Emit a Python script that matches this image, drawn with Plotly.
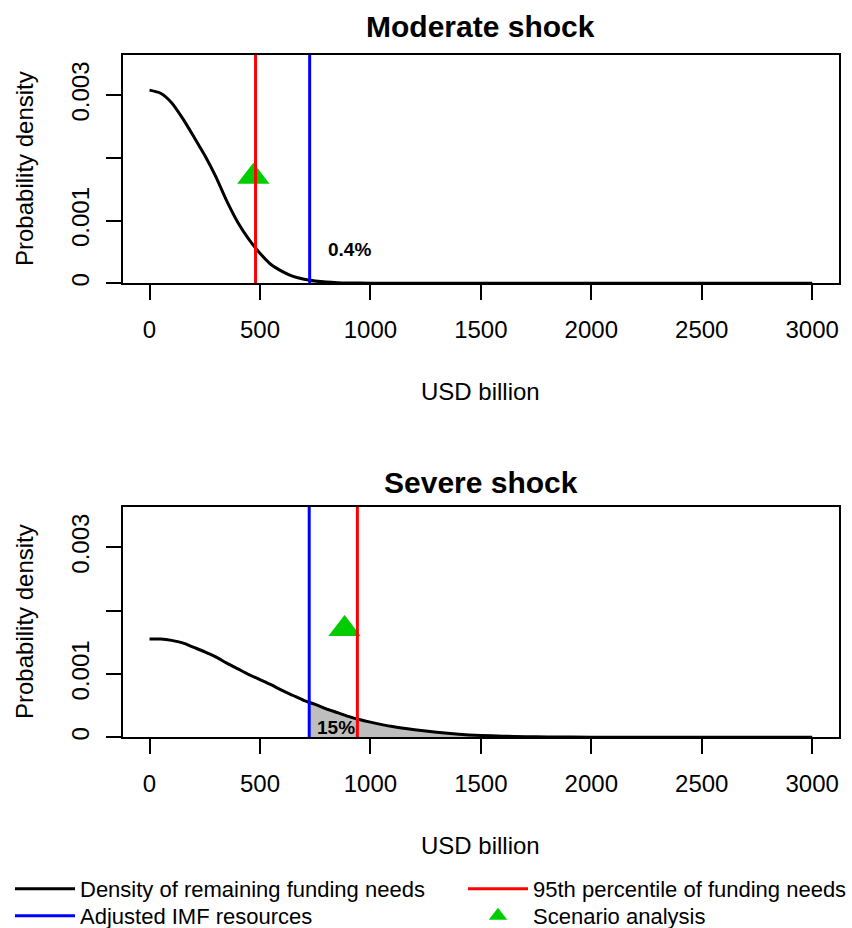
import numpy as np
import plotly.graph_objects as go

# ---------------- data ----------------
x_moderate = [0, 50, 100, 150, 200, 250, 300, 350, 400, 450, 500, 550, 600, 650,
              700, 750, 800, 850, 900, 1000, 1200, 1500, 2000, 2500, 3000]
dens_moderate = [0.00308, 0.00303, 0.00288, 0.00263, 0.00234, 0.00204, 0.00170,
                 0.00131, 0.00097, 0.00070, 0.00048, 0.00030, 0.00019, 0.00011,
                 0.000065, 0.000038, 0.00002, 0.00001, 0.000005, 0.000002, 0.0,
                 0.0, 0.0, 0.0, 0.0]

x_severe = [0, 50, 100, 150, 200, 250, 300, 350, 400, 450, 500, 550, 600, 650,
            700, 750, 800, 850, 900, 950, 1000, 1100, 1200, 1300, 1400, 1500,
            1600, 1700, 1800, 2000, 2500, 3000]
dens_severe = [0.00155, 0.00155, 0.00153, 0.00149, 0.00142, 0.00135, 0.00127,
               0.00117, 0.00108, 0.00099, 0.00091, 0.00083, 0.00074, 0.00066,
               0.00058, 0.00052, 0.00045, 0.00039, 0.00033, 0.00028, 0.00024,
               0.00017, 0.00012, 0.00008, 0.00005, 0.00003, 0.000018, 0.00001,
               0.000005, 0.000002, 0.0, 0.0]

imf_resources = [725, 723]          # Adjusted IMF resources (moderate, severe)
p95_needs = [480, 941]              # 95th percentile of funding needs
scenario_x = [470, 883]             # Scenario analysis point
scenario_y = [0.00170, 0.00171]
tail_labels = ["0.4%", "15%"]
tail_label_x = [905, 843]
tail_label_y = [0.00054, 0.00016]
panel_titles = ["Moderate shock", "Severe shock"]

x_ticks = [0, 500, 1000, 1500, 2000, 2500, 3000]
y_ticks = [0, 0.001, 0.002, 0.003]
y_tick_text = ["0", "0.001", "", "0.003"]
x_range = [-120, 3120]
y_range = [0, 0.00364]

# ---------------- style ----------------
FONT = "Liberation Sans, Arial, Helvetica, sans-serif"
RED, BLUE, GREEN, GREY = "#FF0000", "#0000FF", "#00CD00", "#BEBEBE"
W, H = 852, 928

x_dom = [123 / W, 838.7 / W]
y_doms = [[1 - 283.3 / H, 1 - 55 / H], [1 - 737.3 / H, 1 - 506.7 / H]]

fig = go.Figure()

series = [(x_moderate, dens_moderate), (x_severe, dens_severe)]
for i, (xs, ys) in enumerate(series):
    xa = "x" if i == 0 else "x2"
    ya = "y" if i == 0 else "y2"
    show = i == 0
    xs_a = np.array(xs, dtype=float)
    ys_a = np.array(ys, dtype=float)
    b = imf_resources[i]
    # shaded tail beyond IMF resources
    mask = xs_a > b
    tx = np.concatenate([[b], xs_a[mask]])
    ty = np.concatenate([[np.interp(b, xs_a, ys_a)], ys_a[mask]])
    fig.add_trace(go.Scatter(x=tx, y=ty, mode="lines", fill="tozeroy",
                             fillcolor=GREY, line=dict(color="black", width=1),
                             showlegend=False, hoverinfo="skip", xaxis=xa, yaxis=ya))
    # density curve
    fig.add_trace(go.Scatter(x=xs, y=ys, mode="lines",
                             line=dict(color="black", width=3, shape="spline", smoothing=0.7),
                             name="Density of remaining funding needs",
                             legend="legend",
                             showlegend=show, xaxis=xa, yaxis=ya))
    # scenario triangle
    fig.add_trace(go.Scatter(x=[scenario_x[i]], y=[scenario_y[i]], mode="markers",
                             marker=dict(symbol="triangle-up", size=28, color=GREEN),
                             name="Scenario analysis", legend="legend4",
                             showlegend=show, xaxis=xa, yaxis=ya))
    # 95th percentile
    fig.add_trace(go.Scatter(x=[p95_needs[i]] * 2, y=y_range, mode="lines",
                             line=dict(color=RED, width=3),
                             name="95th percentile of funding needs",
                             legend="legend2",
                             showlegend=show, xaxis=xa, yaxis=ya))
    # IMF resources
    fig.add_trace(go.Scatter(x=[b] * 2, y=y_range, mode="lines",
                             line=dict(color=BLUE, width=3),
                             name="Adjusted IMF resources",
                             legend="legend3",
                             showlegend=show, xaxis=xa, yaxis=ya))

axis_common = dict(showgrid=False, zeroline=False, showline=True, mirror=True,
                   linecolor="black", linewidth=1.5, ticks="outside", ticklen=15,
                   tickwidth=1.5, tickcolor="black",
                   tickfont=dict(family=FONT, size=24, color="black"))

layout_axes = {}
for i in range(2):
    sx = "" if i == 0 else "2"
    layout_axes["xaxis" + sx] = dict(axis_common, domain=x_dom, range=x_range,
                                     tickvals=x_ticks, ticktext=[str(t) for t in x_ticks],
                                     anchor="y" + sx, ticklabelstandoff=9)
    layout_axes["yaxis" + sx] = dict(axis_common, domain=y_doms[i], range=y_range,
                                     tickvals=y_ticks, ticktext=y_tick_text,
                                     tickangle=-90, anchor="x" + sx,
                                     ticklabelstandoff=8)

annotations = []
title_y = [27, 482]
xlabel_y = [391, 845]
ylabel_center = [169, 622]
for i in range(2):
    xr = "x" if i == 0 else "x2"
    yr = "y" if i == 0 else "y2"
    annotations.append(dict(text="<b>%s</b>" % panel_titles[i], xref="paper", yref="paper",
                            x=(x_dom[0] + x_dom[1]) / 2, y=1 - title_y[i] / H,
                            xanchor="center", yanchor="middle", showarrow=False,
                            font=dict(family=FONT, size=30, color="black")))
    annotations.append(dict(text="USD billion", xref="paper", yref="paper",
                            x=(x_dom[0] + x_dom[1]) / 2, y=1 - xlabel_y[i] / H,
                            xanchor="center", yanchor="middle", showarrow=False,
                            font=dict(family=FONT, size=24, color="black")))
    annotations.append(dict(text="Probability density", xref="paper", yref="paper",
                            x=24 / W, y=1 - ylabel_center[i] / H, textangle=-90,
                            xanchor="center", yanchor="middle", showarrow=False,
                            font=dict(family=FONT, size=24, color="black")))
    annotations.append(dict(text="<b>%s</b>" % tail_labels[i], xref=xr, yref=yr,
                            x=tail_label_x[i], y=tail_label_y[i],
                            xanchor="center", yanchor="middle", showarrow=False,
                            font=dict(family=FONT, size=19, color="black")))

legend_common = dict(orientation="v", yanchor="middle", xanchor="left",
                     font=dict(family=FONT, size=22, color="black"),
                     bgcolor="rgba(0,0,0,0)", itemwidth=60, tracegroupgap=0)

fig.update_layout(
    width=W, height=H,
    margin=dict(l=0, r=0, t=0, b=0, autoexpand=False),
    paper_bgcolor="white", plot_bgcolor="white",
    font=dict(family=FONT, size=24, color="black"),
    annotations=annotations,
    legend=dict(legend_common, x=10 / W, y=1 - 889 / H),
    legend2=dict(legend_common, x=463 / W, y=1 - 889 / H),
    legend3=dict(legend_common, x=10 / W, y=1 - 916 / H),
    legend4=dict(legend_common, x=463 / W, y=1 - 916 / H),
    **layout_axes,
)

fig.write_html("out.html")
